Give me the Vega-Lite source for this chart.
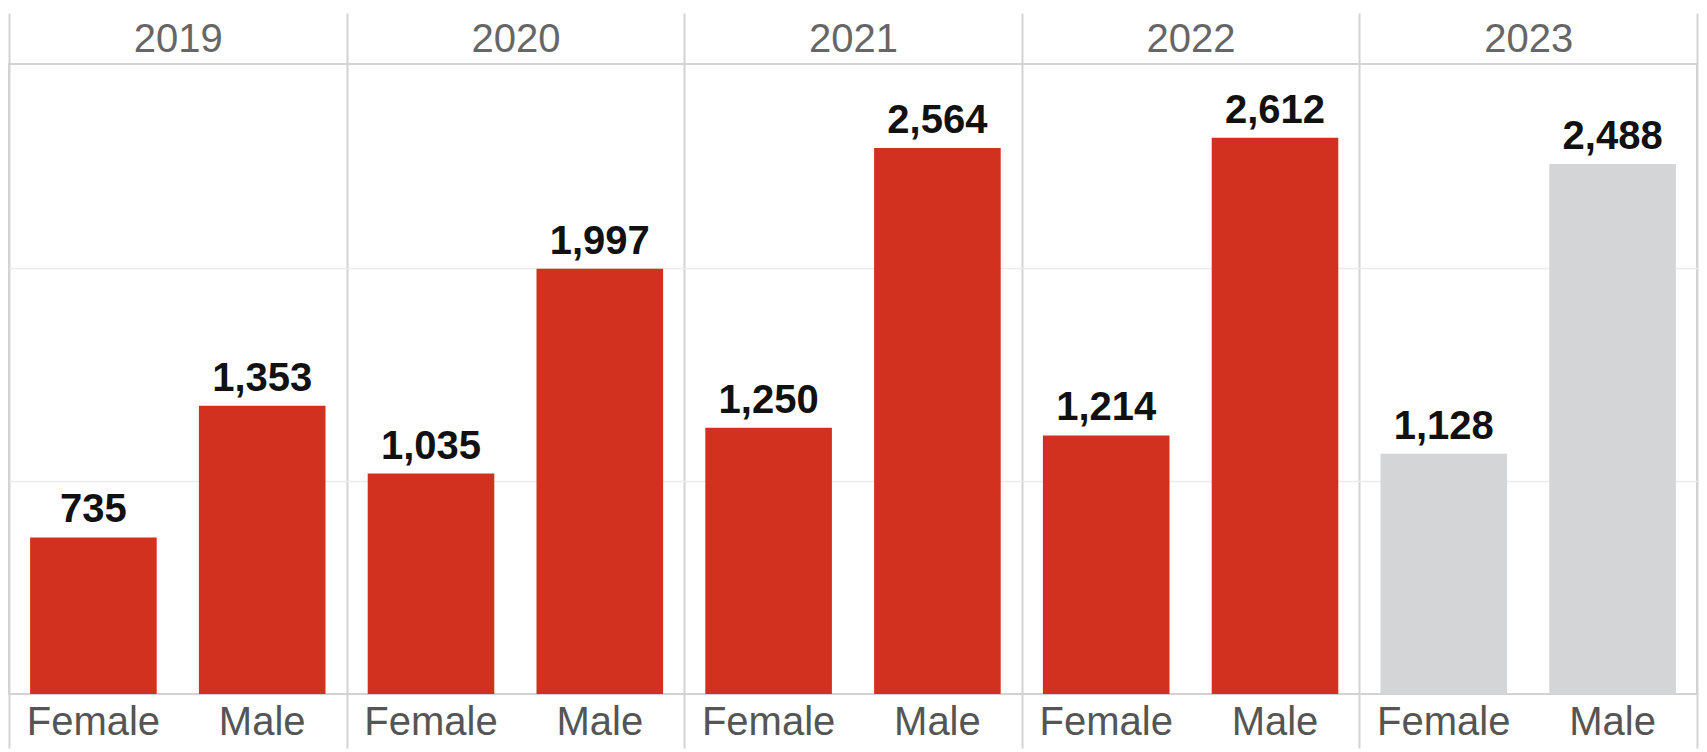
{
  "$schema": "https://vega.github.io/schema/vega-lite/v6.json",
  "width": 1688,
  "height": 630,
  "autosize": {"type": "none"},
  "padding": {"left": 9, "top": 64, "right": 10, "bottom": 58},
  "background": "white",
  "config": {
    "view": {"stroke": "#d3d3d3", "strokeWidth": 2},
    "font": "Liberation Sans"
  },
  "data": {
    "values": [
      {"year": "2019", "gender": "Female", "count": 735},
      {"year": "2019", "gender": "Male", "count": 1353},
      {"year": "2020", "gender": "Female", "count": 1035},
      {"year": "2020", "gender": "Male", "count": 1997},
      {"year": "2021", "gender": "Female", "count": 1250},
      {"year": "2021", "gender": "Male", "count": 2564},
      {"year": "2022", "gender": "Female", "count": 1214},
      {"year": "2022", "gender": "Male", "count": 2612},
      {"year": "2023", "gender": "Female", "count": 1128},
      {"year": "2023", "gender": "Male", "count": 2488}
    ]
  },
  "encoding": {
    "xOffset": {"field": "gender", "type": "nominal", "scale": {"paddingInner": 0.25, "paddingOuter": 0.125}},
    "y": {
      "field": "count", "type": "quantitative",
      "scale": {"domain": [0, 2958], "nice": false, "zero": true},
      "axis": {"values": [1000, 2000], "labels": false, "ticks": false, "domain": false, "title": null, "grid": true, "gridColor": "#ececec", "gridWidth": 1.5}
    }
  },
  "layer": [
    {
      "mark": {"type": "bar"},
      "encoding": {
        "x": {
          "field": "year", "type": "nominal", "scale": {"paddingInner": 0, "paddingOuter": 0},
          "axis": {"orient": "top", "title": null, "domain": false, "grid": true, "gridColor": "#d3d3d3", "gridWidth": 2, "tickBand": "extent", "ticks": true, "tickSize": 51, "tickColor": "#d3d3d3", "tickWidth": 2, "labelFontSize": 40, "labelColor": "#666666", "labelBaseline": "alphabetic", "labelPadding": -38, "labelAngle": 0}
        },
        "color": {
          "condition": {"test": "datum.year === '2023'", "value": "#d4d5d7"},
          "value": "#d3311f"
        }
      }
    },
    {
      "mark": {"type": "text", "fontSize": 40, "fontWeight": "bold", "color": "#111111", "baseline": "alphabetic", "dy": -15},
      "encoding": {
        "x": {"field": "year", "type": "nominal", "axis": null},
        "text": {"field": "count", "type": "quantitative", "format": ","}
      }
    },
    {
      "mark": {"type": "text", "fontSize": 40, "color": "#555555", "baseline": "alphabetic", "dy": 41},
      "encoding": {
        "x": {
          "field": "year", "type": "nominal",
          "axis": {"orient": "bottom", "title": null, "domain": false, "grid": false, "labels": false, "tickBand": "extent", "ticks": true, "tickSize": 54, "tickColor": "#d3d3d3", "tickWidth": 2}
        },
        "y": {"datum": 0, "type": "quantitative"},
        "text": {"field": "gender"}
      }
    }
  ],
  "resolve": {"axis": {"x": "independent"}}
}
